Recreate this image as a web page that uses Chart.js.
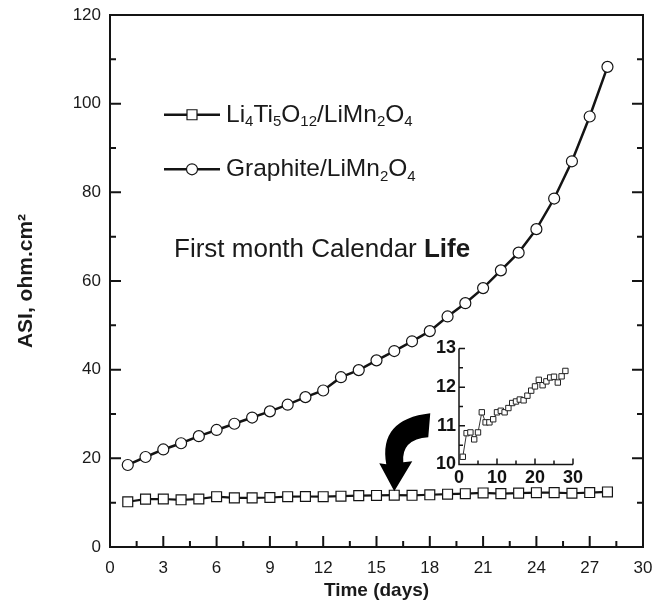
<!DOCTYPE html>
<html>
<head>
<meta charset="utf-8">
<script src="https://cdn.jsdelivr.net/npm/chart.js"></script>
<style>
  html, body { margin: 0; padding: 0; background: #fff; }
  #wrap { position: relative; width: 665px; height: 609px; }
  #main { position: absolute; left: 0; top: 0; }
  #inset { position: absolute; left: 420px; top: 335px; }
</style>
</head>
<body>
<div id="wrap">
  <canvas id="main" width="665" height="609"></canvas>
  <canvas id="inset" width="170" height="160"></canvas>
</div>
<script>
// Data
const days = [1, 2, 3, 4, 5, 6, 7, 8, 9, 10, 11, 12, 13, 14, 15, 16, 17, 18, 19, 20, 21, 22, 23, 24, 25, 26, 27, 28];
const ltoAsi = [10.20, 10.81, 10.83, 10.65, 10.83, 11.35, 11.09, 11.09, 11.17, 11.35, 11.39, 11.35, 11.46, 11.59,
                11.63, 11.68, 11.66, 11.78, 11.91, 12.02, 12.19, 12.05, 12.15, 12.25, 12.27, 12.12, 12.28, 12.42];
const graphiteAsi = [18.5, 20.3, 22.0, 23.4, 25.0, 26.4, 27.8, 29.2, 30.6, 32.1, 33.8, 35.3, 38.3, 39.9,
                     42.1, 44.2, 46.4, 48.7, 52.0, 55.0, 58.4, 62.4, 66.4, 71.7, 78.6, 87.0, 97.1, 108.3];
const xTicks = [0, 3, 6, 9, 12, 15, 18, 21, 24, 27, 30];
const yTicks = [0, 20, 40, 60, 80, 100, 120];
const insetXTicks = [0, 10, 20, 30];
const insetYTicks = [10, 11, 12, 13];

const INK = '#141414';
const FONT = 'Arial, "Liberation Sans", sans-serif';

const toPoints = (xs, ys) => xs.map((x, i) => ({ x: x, y: ys[i] }));

// pin the plot box: drop the automatic label paddings
function noPad(s) {
  s.paddingTop = 0; s.paddingBottom = 0; s.paddingLeft = 0; s.paddingRight = 0;
}

// text with subscripts: parts = [[text, isSub], ...]
function drawRich(ctx, parts, x, y, size) {
  let cx = x;
  parts.forEach(([t, sub]) => {
    const fs = sub ? Math.round(size * 0.62) : size;
    ctx.font = fs + 'px ' + FONT;
    ctx.fillText(t, cx, sub ? y + size * 0.3 : y);
    cx += ctx.measureText(t).width;
  });
}

function drawMarker(ctx, style, x, y) {
  ctx.save();
  ctx.fillStyle = '#fff';
  ctx.strokeStyle = INK;
  ctx.lineWidth = 1.2;
  ctx.beginPath();
  if (style === 'rect') ctx.rect(x - 5, y - 5, 10, 10);
  else ctx.arc(x, y, 5.5, 0, Math.PI * 2);
  ctx.fill();
  ctx.stroke();
  ctx.restore();
}

function drawArrow(ctx, tx, ty) {
  ctx.save();
  ctx.fillStyle = '#000';
  ctx.beginPath();
  ctx.moveTo(tx + 36, ty - 78);
  ctx.quadraticCurveTo(tx - 16, ty - 72, tx - 8, ty - 27);
  ctx.lineTo(tx - 15, ty - 28);
  ctx.lineTo(tx, ty);
  ctx.lineTo(tx + 18, ty - 30);
  ctx.lineTo(tx + 9, ty - 29);
  ctx.quadraticCurveTo(tx + 7, ty - 52, tx + 34, ty - 54);
  ctx.closePath();
  ctx.fill();
  ctx.restore();
}

const mainDecor = {
  id: 'mainDecor',
  afterDraw(chart) {
    const ctx = chart.ctx;
    const a = chart.chartArea;
    const xs = chart.scales.x, ys = chart.scales.y;
    ctx.save();
    ctx.strokeStyle = INK;
    ctx.lineWidth = 2;
    ctx.strokeRect(a.left, a.top, a.right - a.left, a.bottom - a.top);
    // inward ticks, major + minor
    ctx.beginPath();
    for (let v = 0; v <= 30; v += 1.5) {
      const px = xs.getPixelForValue(v);
      const len = (v % 3 === 0) ? 11 : 6;
      ctx.moveTo(px, a.bottom); ctx.lineTo(px, a.bottom - len);
    }
    for (let v = 0; v <= 120; v += 10) {
      const py = ys.getPixelForValue(v);
      const len = (v % 20 === 0) ? 11 : 6;
      ctx.moveTo(a.left, py); ctx.lineTo(a.left + len, py);
      ctx.moveTo(a.right, py); ctx.lineTo(a.right - len, py);
    }
    ctx.stroke();

    // legend
    ctx.fillStyle = '#1a1a1a';
    ctx.textBaseline = 'middle';
    const lx0 = a.left + 54, lx1 = a.left + 110;
    const rows = [
      { y: ys.getPixelForValue(97.5), style: 'rect',
        parts: [['Li', 0], ['4', 1], ['Ti', 0], ['5', 1], ['O', 0], ['12', 1], ['/LiMn', 0], ['2', 1], ['O', 0], ['4', 1]] },
      { y: ys.getPixelForValue(85.2), style: 'circle',
        parts: [['Graphite/LiMn', 0], ['2', 1], ['O', 0], ['4', 1]] }
    ];
    rows.forEach(r => {
      ctx.lineWidth = 2.5;
      ctx.beginPath(); ctx.moveTo(lx0, r.y); ctx.lineTo(lx1, r.y); ctx.stroke();
      drawMarker(ctx, r.style, (lx0 + lx1) / 2, r.y);
      drawRich(ctx, r.parts, lx1 + 6, r.y, 24.5);
    });

    // annotation
    const ay = ys.getPixelForValue(67);
    ctx.font = '26px ' + FONT;
    ctx.fillText('First month Calendar ', a.left + 64, ay);
    const w = ctx.measureText('First month Calendar ').width;
    ctx.font = 'bold 26px ' + FONT;
    ctx.fillText('Life', a.left + 64 + w, ay);

    // curved arrow pointing to the lower series
    drawArrow(ctx, xs.getPixelForValue(16), ys.getPixelForValue(12.6));
    ctx.restore();
  }
};

new Chart(document.getElementById('main'), {
  type: 'scatter',
  data: {
    datasets: [
      {
        label: 'Li4Ti5O12/LiMn2O4',
        data: toPoints(days, ltoAsi),
        showLine: true,
        borderColor: INK,
        borderWidth: 2.2,
        pointStyle: 'rect',
        pointRadius: 7,
        pointBackgroundColor: '#fff',
        pointBorderColor: INK,
        pointBorderWidth: 1.2
      },
      {
        label: 'Graphite/LiMn2O4',
        data: toPoints(days, graphiteAsi),
        showLine: true,
        borderColor: INK,
        borderWidth: 2.5,
        pointStyle: 'circle',
        pointRadius: 5.5,
        pointBackgroundColor: '#fff',
        pointBorderColor: INK,
        pointBorderWidth: 1.2
      }
    ]
  },
  options: {
    responsive: false,
    animation: false,
    devicePixelRatio: 1,
    layout: { padding: { top: 15, right: 22, left: 0, bottom: 0 } },
    plugins: { legend: { display: false }, tooltip: { enabled: false } },
    scales: {
      x: {
        type: 'linear', min: 0, max: 30,
        afterFit: s => { s.height = 62; noPad(s); },
        afterBuildTicks: s => { s.ticks = xTicks.map(v => ({ value: v })); },
        ticks: { padding: 11, color: '#1a1a1a', font: { size: 17, family: FONT }, maxRotation: 0 },
        grid: { display: false, drawTicks: false },
        border: { display: false },
        title: { display: true, text: 'Time (days)', color: '#1a1a1a', padding: { top: 0, bottom: 7 },
                 font: { size: 19, weight: 'bold', family: FONT } }
      },
      y: {
        type: 'linear', min: 0, max: 120,
        afterFit: s => { s.width = 110; noPad(s); },
        afterBuildTicks: s => { s.ticks = yTicks.map(v => ({ value: v })); },
        ticks: { padding: 9, color: '#1a1a1a', font: { size: 17, family: FONT } },
        grid: { display: false, drawTicks: false },
        border: { display: false },
        title: { display: true, text: 'ASI, ohm.cm²', color: '#1a1a1a', padding: { top: 14, bottom: 0 },
                 font: { size: 21, weight: 'bold', family: FONT } }
      }
    }
  },
  plugins: [mainDecor]
});

const insetDecor = {
  id: 'insetDecor',
  afterDraw(chart) {
    const ctx = chart.ctx;
    const a = chart.chartArea;
    const xs = chart.scales.x, ys = chart.scales.y;
    ctx.save();
    ctx.strokeStyle = INK;
    ctx.lineWidth = 1.5;
    ctx.beginPath();
    ctx.moveTo(a.left, a.top); ctx.lineTo(a.left, a.bottom); ctx.lineTo(a.right, a.bottom);
    for (let v = 5; v <= 30; v += 5) {
      const px = xs.getPixelForValue(v);
      const len = (v % 10 === 0) ? 6 : 4;
      ctx.moveTo(px, a.bottom); ctx.lineTo(px, a.bottom - len);
    }
    for (let v = 10.5; v <= 13; v += 0.5) {
      const py = ys.getPixelForValue(v);
      const len = (v % 1 === 0) ? 6 : 4;
      ctx.moveTo(a.left, py); ctx.lineTo(a.left + len, py);
    }
    ctx.stroke();
    ctx.restore();
  }
};

new Chart(document.getElementById('inset'), {
  type: 'scatter',
  data: {
    datasets: [{
      data: toPoints(days, ltoAsi),
      showLine: true,
      borderColor: '#333',
      borderWidth: 1,
      pointStyle: 'rect',
      pointRadius: 3.8,
      pointBackgroundColor: '#fff',
      pointBorderColor: '#222',
      pointBorderWidth: 1,
      clip: false
    }]
  },
  options: {
    responsive: false,
    animation: false,
    devicePixelRatio: 1,
    layout: { padding: { top: 13.5, right: 17, left: 0, bottom: 0 } },
    plugins: { legend: { display: false }, tooltip: { enabled: false } },
    scales: {
      x: {
        type: 'linear', min: 0, max: 30,
        afterFit: s => { s.height = 30.5; noPad(s); },
        afterBuildTicks: s => { s.ticks = insetXTicks.map(v => ({ value: v })); },
        ticks: { padding: 3, color: '#111', font: { size: 18, weight: 'bold', family: FONT }, maxRotation: 0 },
        grid: { display: false, drawTicks: false },
        border: { display: false }
      },
      y: {
        type: 'linear', min: 10, max: 13,
        afterFit: s => { s.width = 39; noPad(s); },
        afterBuildTicks: s => { s.ticks = insetYTicks.map(v => ({ value: v })); },
        ticks: { padding: 3, color: '#111', font: { size: 18, weight: 'bold', family: FONT } },
        grid: { display: false, drawTicks: false },
        border: { display: false }
      }
    }
  },
  plugins: [insetDecor]
});
</script>
</body>
</html>
